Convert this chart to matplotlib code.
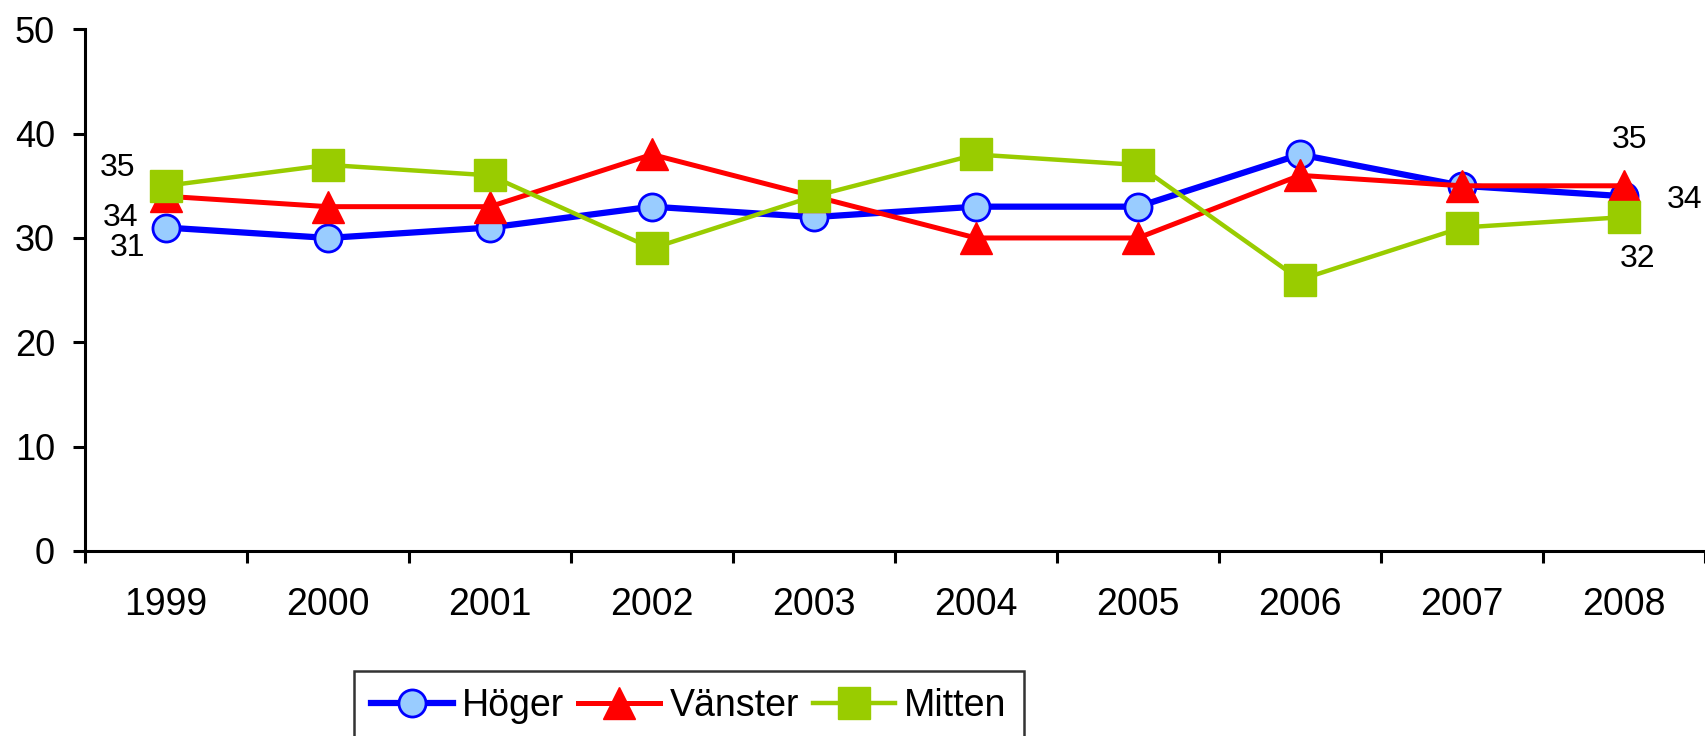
# Import matplotlib so we can graph the data
import matplotlib
matplotlib.use("Agg")
import matplotlib.pyplot as plt

plt.rcParams['font.family'] = ['Liberation Sans', 'DejaVu Sans']

# Chart data
years = ["1999", "2000", "2001", "2002", "2003", "2004", "2005", "2006", "2007", "2008"]
hoger = [31, 30, 31, 33, 32, 33, 33, 38, 35, 34]
vanster = [34, 33, 33, 38, 34, 30, 30, 36, 35, 35]
mitten = [35, 37, 36, 29, 34, 38, 37, 26, 31, 32]
seriesNames = ["Höger", "Vänster", "Mitten"]
yTicks = [0, 10, 20, 30, 40, 50]

fig = plt.figure(figsize=(17.06, 7.36), dpi=100)
ax = fig.add_axes([0.0498, 0.2514, 0.9496, 0.7088])

x = list(range(len(years)))

# Draw the three series, blue at the bottom and green on top
ax.plot(x, hoger, color="#0000FF", linewidth=4.5, marker="o", markersize=19.5,
        markerfacecolor="#99CCFF", markeredgecolor="#0000FF", markeredgewidth=2,
        label=seriesNames[0], clip_on=False, zorder=3)
ax.plot(x, vanster, color="#FF0000", linewidth=3.6, marker="^", markersize=23,
        markerfacecolor="#FF0000", markeredgecolor="#FF0000",
        label=seriesNames[1], clip_on=False, zorder=4)
ax.plot(x, mitten, color="#99CC00", linewidth=3.2, marker="s", markersize=23,
        markerfacecolor="#99CC00", markeredgecolor="#99CC00",
        label=seriesNames[2], clip_on=False, zorder=5)

# Data labels on the first and last points
labelSize = 23
first = 0
last = len(years) - 1
ax.annotate(str(mitten[first]), (first, mitten[first]), xytext=(-35, 13),
            textcoords="offset points", ha="center", va="center", fontsize=labelSize)
ax.annotate(str(vanster[first]), (first, vanster[first]), xytext=(-33, -16),
            textcoords="offset points", ha="center", va="center", fontsize=labelSize)
ax.annotate(str(hoger[first]), (first, hoger[first]), xytext=(-28, -15),
            textcoords="offset points", ha="center", va="center", fontsize=labelSize)
ax.annotate(str(vanster[last]), (last, vanster[last]), xytext=(4, 33),
            textcoords="offset points", ha="center", va="center", fontsize=labelSize)
ax.annotate(str(hoger[last]), (last, hoger[last]), xytext=(44, -3),
            textcoords="offset points", ha="center", va="center", fontsize=labelSize)
ax.annotate(str(mitten[last]), (last, mitten[last]), xytext=(10, -30),
            textcoords="offset points", ha="center", va="center", fontsize=labelSize)

# Axes limits and ticks
ax.set_xlim(-0.5, len(years) - 0.5)
ax.set_ylim(0, 50)
ax.set_yticks(yTicks)
ax.set_xticks(x)
ax.set_xticklabels(years)
ax.set_xticks([i - 0.5 for i in range(len(years) + 1)], minor=True)

ax.tick_params(axis="x", which="major", length=0, pad=26, labelsize=27)
ax.tick_params(axis="x", which="minor", length=8.6, width=2.2, direction="out")
ax.tick_params(axis="y", length=8.6, width=2.2, direction="out", pad=13, labelsize=26)

for side in ["top", "right"]:
    ax.spines[side].set_visible(False)
for side in ["left", "bottom"]:
    ax.spines[side].set_linewidth(2.2)

# Legend below the chart, box cut by the bottom edge
legend = ax.legend(loc="upper left", bbox_to_anchor=(354 / 1706, 1 - 671 / 736),
                   bbox_transform=fig.transFigure, ncol=3, fontsize=27,
                   frameon=True, fancybox=False, edgecolor="black",
                   handlelength=2.18, handletextpad=0.25, columnspacing=0.38,
                   borderpad=0.45, borderaxespad=0)
legend.get_frame().set_linewidth(1.8)

fig.savefig("out.png", dpi=100)
